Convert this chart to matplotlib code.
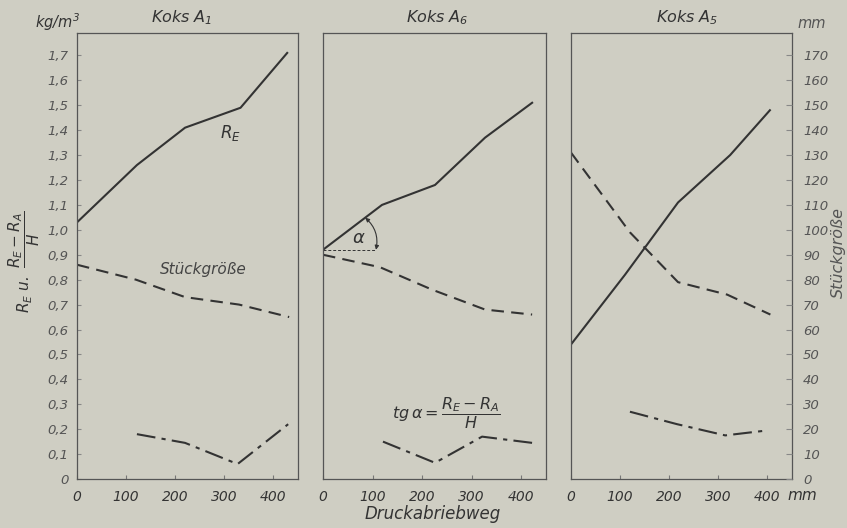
import numpy as np
import matplotlib
matplotlib.use("Agg")
import matplotlib.pyplot as plt

plt.rcParams['font.family'] = ['DejaVu Sans']
plt.rcParams['font.style'] = 'italic'
plt.rcParams['mathtext.fontset'] = 'dejavusans'
plt.rcParams['mathtext.default'] = 'it'

# Werte (x in mm Druckabriebweg)
# Koks A1
a1_re_x = [0, 122, 220, 333, 428]
a1_re_y = [1.03, 1.26, 1.41, 1.49, 1.71]
a1_st_x = [0, 120, 220, 330, 432]
a1_st_y = [0.86, 0.80, 0.73, 0.70, 0.65]
a1_tg_x = [122, 220, 327, 430]
a1_tg_y = [0.18, 0.145, 0.06, 0.22]

# Koks A6
a6_re_x = [0, 119, 226, 327, 422]
a6_re_y = [0.92, 1.10, 1.18, 1.37, 1.51]
a6_st_x = [0, 115, 220, 327, 422]
a6_st_y = [0.90, 0.85, 0.76, 0.68, 0.66]
a6_tg_x = [121, 226, 321, 422]
a6_tg_y = [0.15, 0.065, 0.17, 0.145]

# Koks A5 (Skala in mm, 10 mm = 0,1 kg/m3)
a5_re_x = [0, 110, 218, 324, 405]
a5_re_y = [54, 82, 111, 130, 148]
a5_st_x = [0, 120, 218, 318, 406]
a5_st_y = [131, 99, 79, 74, 66]
a5_tg_x = [120, 216, 314, 400]
a5_tg_y = [27, 22, 17.5, 19.5]

left_ticks = [i / 10 for i in range(18)]
left_labels = ['0'] + [f"{v:.1f}".replace('.', ',') for v in left_ticks[1:]]
right_ticks = list(range(0, 180, 10))
x_ticks = [0, 100, 200, 300, 400]

bg = '#cfcec3'
ink = '#333333'
dash = (0, (6, 3.5))
dashdot = (0, (9, 3, 2, 3))

fig = plt.figure(figsize=(8.47, 5.28), dpi=100, facecolor=bg)

W, H = 847, 528
def box(l, r, t=33, b=479):
    return [l / W, 1 - b / H, (r - l) / W, (b - t) / H]

ax1 = fig.add_axes(box(77, 298))
ax2 = fig.add_axes(box(323, 546))
ax3 = fig.add_axes(box(571, 792))

for ax in (ax1, ax2, ax3):
    ax.set_facecolor(bg)
    ax.set_xlim(0, 450)
    for s in ax.spines.values():
        s.set_color('#555555')
        s.set_linewidth(0.9)
    ax.set_xticks(x_ticks)
    ax.set_xticklabels([str(v) for v in x_ticks], fontsize=10, color=ink)
    ax.tick_params(axis='x', direction='in', length=3, color='#777777', pad=8)

for ax in (ax1, ax2):
    ax.set_ylim(0, 1.79)
ax3.set_ylim(0, 179)

ax1.set_yticks(left_ticks)
ax1.set_yticklabels(left_labels, fontsize=9.5, color='#555555')
ax1.tick_params(axis='y', direction='in', length=3, color='#888888', pad=6)
ax2.set_yticks([])
ax3.set_yticks([])
ax3r = ax3.twinx()
ax3r.set_ylim(0, 179)
ax3r.set_yticks(right_ticks)
ax3r.set_yticklabels([str(v) for v in right_ticks], fontsize=9.5, color='#555555')
ax3r.tick_params(axis='y', direction='in', length=4, color='#888888', pad=8)
for s in ax3r.spines.values():
    s.set_visible(False)

lw = 1.5
ax1.plot(a1_re_x, a1_re_y, color=ink, lw=lw)
ax1.plot(a1_st_x, a1_st_y, color=ink, lw=lw, linestyle=dash)
ax1.plot(a1_tg_x, a1_tg_y, color=ink, lw=lw, linestyle=dashdot)

ax2.plot(a6_re_x, a6_re_y, color=ink, lw=lw)
ax2.plot(a6_st_x, a6_st_y, color=ink, lw=lw, linestyle=dash)
ax2.plot(a6_tg_x, a6_tg_y, color=ink, lw=lw, linestyle=dashdot)

ax3.plot(a5_re_x, a5_re_y, color=ink, lw=lw)
ax3.plot(a5_st_x, a5_st_y, color=ink, lw=lw, linestyle=dash)
ax3.plot(a5_tg_x, a5_tg_y, color=ink, lw=lw, linestyle=dashdot)

# Winkel alpha bei Koks A6
fig.canvas.draw()
px_x = ax2.get_window_extent().width / 450
px_y = ax2.get_window_extent().height / 1.79
dx = (a6_re_x[1] - a6_re_x[0]) * px_x
dy = (a6_re_y[1] - a6_re_y[0]) * px_y
ang = np.arctan2(dy, dx)
r = 53
ax2.plot([0, r / px_x], [a6_re_y[0]] * 2, color=ink, lw=0.7, linestyle=(0, (3, 2)))
ax2.annotate('', xy=(r / px_x, a6_re_y[0]),
             xytext=(r * np.cos(ang) / px_x, a6_re_y[0] + r * np.sin(ang) / px_y),
             arrowprops=dict(arrowstyle='<|-|>', color=ink, lw=0.8,
                             mutation_scale=6, shrinkA=0, shrinkB=0,
                             connectionstyle=f"arc3,rad={-ang / 2.3:.3f}"))
ax2.text(r * 0.72 * np.cos(ang / 2) / px_x, a6_re_y[0] + r * 0.72 * np.sin(ang / 2) / px_y,
         r'$\alpha$', fontsize=13, color=ink, ha='center', va='center')

# Beschriftungen
ax1.text(312, 1.39, r'$R_E$', fontsize=12, color=ink, ha='center', va='center')
ax1.text(258, 0.84, 'Stückgröße', fontsize=11, color='#444444', ha='center', va='center')
ax2.text(140, 0.265, r'$tg\,\alpha = \dfrac{R_E - R_A}{H}$', fontsize=11.5, color=ink,
         ha='left', va='center')

fig.text(182 / W, 1 - 18 / H, r'Koks $A_1$', fontsize=11.5, color=ink, ha='center', va='center')
fig.text(437 / W, 1 - 18 / H, r'Koks $A_6$', fontsize=11.5, color=ink, ha='center', va='center')
fig.text(687 / W, 1 - 18 / H, r'Koks $A_5$', fontsize=11.5, color=ink, ha='center', va='center')
fig.text(57 / W, 1 - 22 / H, r'kg/m$^3$', fontsize=10.5, color=ink, ha='center', va='center')
fig.text(812 / W, 1 - 24 / H, 'mm', fontsize=10.5, color='#555555', ha='center', va='center')
fig.text(802 / W, 1 - 495 / H, 'mm', fontsize=11, color=ink, ha='center', va='center')
fig.text(433 / W, 1 - 514 / H, 'Druckabriebweg', fontsize=12, color=ink, ha='center', va='center')
fig.text(24 / W, 1 - 262 / H, r'$R_E\ u.\ \dfrac{R_E - R_A}{H}$', fontsize=11, color=ink,
         rotation=90, ha='center', va='center')
fig.text(838 / W, 1 - 252 / H, 'Stückgröße', fontsize=11.5, color='#555555',
         rotation=90, ha='center', va='center')

fig.savefig('out.png', dpi=100, facecolor=bg)
